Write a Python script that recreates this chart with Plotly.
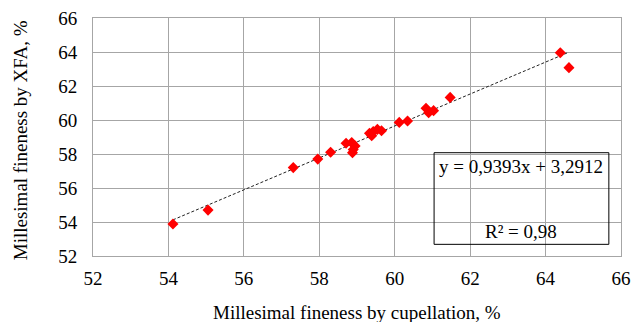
import plotly.graph_objects as go

cupellation = [54.12, 55.05, 57.31, 57.96, 58.30, 58.71, 58.86, 58.95, 58.90, 58.88,
               59.33, 59.39, 59.43, 59.54, 59.65, 60.12, 60.34, 60.83, 60.90, 61.03,
               61.47, 64.39, 64.62]
xfa = [53.88, 54.70, 57.20, 57.70, 58.10, 58.63, 58.67, 58.47, 58.27, 58.08,
       59.22, 59.08, 59.32, 59.45, 59.37, 59.86, 59.94, 60.69, 60.43, 60.55,
       61.33, 63.96, 63.08]
slope = 0.9393
intercept = 3.2912
eq_text = "y = 0,9393x + 3,2912"
r2_text = "R² = 0,98"
x_title = "Millesimal fineness by cupellation, %"
y_title = "Millesimal fineness by XFA, %"
tick_vals = [52, 54, 56, 58, 60, 62, 64, 66]
tick_text = [str(v) for v in tick_vals]

FONT = "Liberation Serif, Times New Roman, serif"
xmin, xmax = min(cupellation), max(cupellation)
trend_x = [xmin, xmax]
trend_y = [slope * v + intercept for v in trend_x]

fig = go.Figure()
fig.add_trace(go.Scatter(x=trend_x, y=trend_y, mode="lines",
                         line=dict(color="#222222", width=1, dash="3px,2px"),
                         hoverinfo="skip", showlegend=False))
fig.add_trace(go.Scatter(x=cupellation, y=xfa, mode="markers",
                         marker=dict(symbol="diamond", size=8.5, color="#ff0000",
                                     line=dict(width=0)),
                         showlegend=False))

fig.add_shape(type="rect", xref="paper", yref="paper",
              x0=0.646, x1=0.977, y0=0.049, y1=0.434,
              line=dict(color="black", width=1), fillcolor="rgba(0,0,0,0)", layer="above")
fig.add_annotation(xref="paper", yref="paper", x=0.8115, y=0.374, text=eq_text,
                   xanchor="center", yanchor="middle",
                   showarrow=False, font=dict(family=FONT, size=19, color="black"))
fig.add_annotation(xref="paper", yref="paper", x=0.8115, y=0.101, text=r2_text,
                   xanchor="center", yanchor="middle",
                   showarrow=False, font=dict(family=FONT, size=19, color="black"))
fig.add_annotation(xref="paper", yref="paper", x=0.5, y=-0.238, text=x_title,
                   xanchor="center", yanchor="middle",
                   showarrow=False, font=dict(family=FONT, size=19, color="black"))
fig.add_annotation(xref="paper", yref="paper", x=-0.138, y=0.487, text=y_title,
                   xanchor="center", yanchor="middle",
                   textangle=-90, showarrow=False,
                   font=dict(family=FONT, size=19, color="black"))

axis_common = dict(range=[52, 66], tickmode="array", tickvals=tick_vals, ticktext=tick_text,
                   showgrid=True, gridcolor="#a6a6a6", gridwidth=1, showline=True,
                   linecolor="#a6a6a6", linewidth=1, mirror=True, zeroline=False,
                   automargin=False,
                   tickfont=dict(family=FONT, size=19, color="black"))
fig.update_xaxes(**axis_common, ticklabelstandoff=5)
fig.update_yaxes(**axis_common, ticklabelstandoff=11)
fig.update_layout(width=633, height=322, plot_bgcolor="white", paper_bgcolor="white",
                  font=dict(family=FONT, size=19, color="black"),
                  margin=dict(l=93, r=12, t=18, b=66))
fig.write_html("out.html", config={"displayModeBar": False},
               post_script="document.body.style.margin='0px';document.body.style.overflow='hidden';")
